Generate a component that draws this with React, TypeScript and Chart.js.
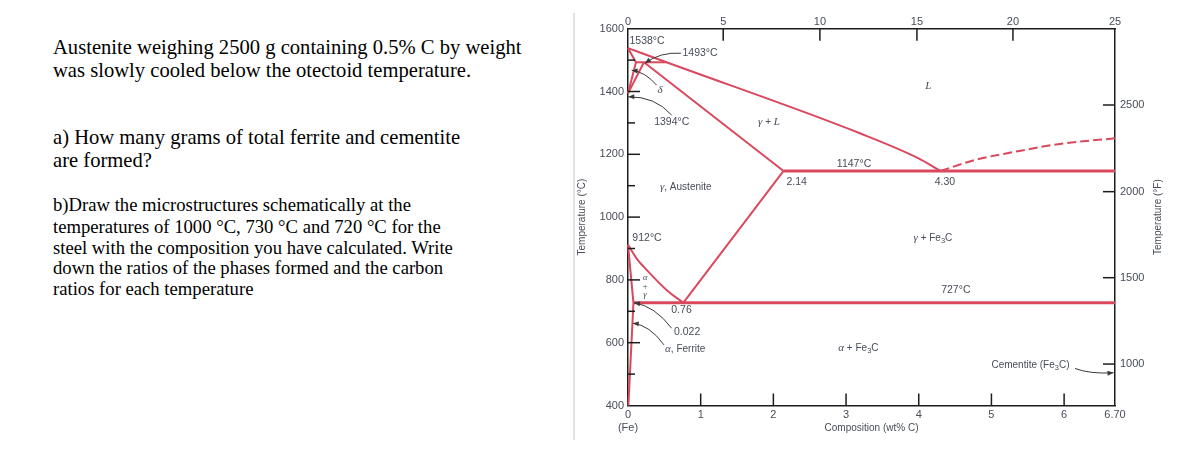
import React, { useEffect, useRef } from "react";
import { Chart, registerables } from "chart.js";

Chart.register(...registerables);

// ---------- data ----------
const xTickValues = [0, 1, 2, 3, 4, 5, 6, 6.7];
const xTickLabels: (string | string[])[] = [["0", "(Fe)"], "1", "2", "3", "4", "5", "6", "6.70"];
// top axis: atom % C, placed at the wt% positions
const topTickValues = [0, 1.31, 2.64, 3.975, 5.296, 6.7];
const topTickLabels = ["0", "5", "10", "15", "20", "25"];
const yTickValues = [400, 600, 800, 1000, 1200, 1400, 1600];
const yMinorValues = [500, 700, 900, 1100, 1300, 1500];
// right axis: °F ticks, placed at the °C positions
const fTickValues = [532, 807, 1081, 1357];
const fTickLabels = ["1000", "1500", "2000", "2500"];

const liquidus = [[0, 1538], [0.53, 1493], [3.19, 1267], [3.99, 1188], [4.3, 1147]];
const deltaSolidus = [[0, 1538], [0.11, 1493]];
const deltaSolvus = [[0.11, 1493], [0, 1394]];
const peritectic = [[0.11, 1493], [0.53, 1493]];
const gammaDeltaBoundary = [[0, 1394], [0.22, 1493]];
const gammaSolidus = [[0.22, 1493], [2.14, 1147]];
const eutectic = [[2.14, 1147], [6.7, 1147]];
const acmLine = [[2.14, 1147], [0.76, 727]];
const a3Line = [[0, 912], [0.12, 868], [0.26, 831], [0.53, 768], [0.76, 727]];
const eutectoid = [[0.075, 727], [6.7, 727]];
const alphaSolvus = [[0, 912], [0.075, 727], [0.005, 400]];
const cementiteLiquidus = [[4.3, 1147], [4.79, 1183], [5.3, 1207], [5.94, 1233], [6.7, 1251]];

const questionLines = [
  "Austenite weighing 2500 g containing 0.5% C by weight",
  "was slowly cooled below the otectoid temperature.",
  "a) How many grams of total ferrite and cementite",
  "are formed?",
  "b)Draw the microstructures schematically at the",
  "temperatures of 1000 °C, 730 °C and 720 °C for the",
  "steel with the composition you have calculated. Write",
  "down the ratios of the phases formed and the carbon",
  "ratios for each temperature",
];
const questionBaselines = [53.5, 77, 144, 166.7, 211.7, 233.3, 254, 274.3, 295];
const questionFontSizes = [20.6, 20.6, 20.6, 20.6, 18.67, 18.67, 18.67, 18.67, 18.67];

// ---------- annotation layout (data coordinates) ----------
type Seg = { t: string; k: "n" | "num" | "g" | "sub" | "small" };
const annotations: { segs: Seg[]; x: number; y: number; align: "left" | "center" }[] = [
  { segs: [{ t: "1538°C", k: "num" }], x: 0.02, y: 1559, align: "left" },
  { segs: [{ t: "1493°C", k: "num" }], x: 0.75, y: 1522, align: "left" },
  { segs: [{ t: "δ", k: "g" }], x: 0.44, y: 1405, align: "center" },
  { segs: [{ t: "1394°C", k: "num" }], x: 0.36, y: 1304, align: "left" },
  { segs: [{ t: "γ", k: "g" }, { t: " + ", k: "n" }, { t: "L", k: "g" }], x: 1.94, y: 1303, align: "center" },
  { segs: [{ t: "L", k: "g" }], x: 4.13, y: 1417, align: "center" },
  { segs: [{ t: "1147°C", k: "num" }], x: 3.11, y: 1169, align: "center" },
  { segs: [{ t: "2.14", k: "num" }], x: 2.32, y: 1113, align: "center" },
  { segs: [{ t: "4.30", k: "num" }], x: 4.36, y: 1113, align: "center" },
  { segs: [{ t: "γ", k: "g" }, { t: ", Austenite", k: "n" }], x: 0.44, y: 1095, align: "left" },
  { segs: [{ t: "912°C", k: "num" }], x: 0.06, y: 933, align: "left" },
  { segs: [{ t: "α", k: "small" }], x: 0.234, y: 808, align: "center" },
  { segs: [{ t: "+", k: "small" }], x: 0.234, y: 779, align: "center" },
  { segs: [{ t: "γ", k: "small" }], x: 0.234, y: 752, align: "center" },
  { segs: [{ t: "0.76", k: "num" }], x: 0.736, y: 704, align: "center" },
  { segs: [{ t: "0.022", k: "num" }], x: 0.633, y: 635, align: "left" },
  { segs: [{ t: "α", k: "g" }, { t: ", Ferrite", k: "n" }], x: 0.51, y: 579, align: "left" },
  { segs: [{ t: "γ", k: "g" }, { t: " + Fe", k: "n" }, { t: "3", k: "sub" }, { t: "C", k: "n" }], x: 4.195, y: 933, align: "center" },
  { segs: [{ t: "727°C", k: "num" }], x: 4.51, y: 766, align: "center" },
  { segs: [{ t: "α", k: "g" }, { t: " + Fe", k: "n" }, { t: "3", k: "sub" }, { t: "C", k: "n" }], x: 3.17, y: 582, align: "center" },
  { segs: [{ t: "Cementite (Fe", k: "n" }, { t: "3", k: "sub" }, { t: "C)", k: "n" }], x: 5.0, y: 529, align: "left" },
];
const arrows: { from: number[]; ctrl: number[]; to: number[] }[] = [
  { from: [0.73, 1522], ctrl: [0.44, 1526], to: [0.234, 1490] },
  { from: [0.395, 1420], ctrl: [0.24, 1462], to: [0.05, 1468] },
  { from: [0.6, 1325], ctrl: [0.37, 1385], to: [0.004, 1383] },
  { from: [0.6, 646], ctrl: [0.37, 717], to: [0.083, 727] },
  { from: [0.495, 593], ctrl: [0.3, 656], to: [0.065, 662] },
  { from: [6.15, 518], ctrl: [6.35, 500], to: [6.68, 504] },
];

const RED = "#d9485c";
const AXIS = "#1c1c1c";
const LABEL = "#474c57";
const SANS = "'Liberation Sans', Arial, sans-serif";
const SERIF = "'Liberation Serif', 'Times New Roman', serif";

function fontFor(k: Seg["k"]) {
  switch (k) {
    case "num": return `10.5px ${SANS}`;
    case "g": return `italic 11px ${SERIF}`;
    case "sub": return `7.5px ${SANS}`;
    case "small": return `italic 9px ${SERIF}`;
    default: return `10px ${SANS}`;
  }
}

function line(ctx: CanvasRenderingContext2D, x1: number, y1: number, x2: number, y2: number) {
  ctx.beginPath();
  ctx.moveTo(x1, y1);
  ctx.lineTo(x2, y2);
  ctx.stroke();
}

const overlayPlugin = {
  id: "overlay",
  afterDraw(chart: any) {
    const { ctx, scales, chartArea } = chart;
    const X = (v: number) => scales.x.getPixelForValue(v);
    const Y = (v: number) => scales.y.getPixelForValue(v);
    const { left, right, top, bottom } = chartArea;
    ctx.save();
    // inward tick marks
    ctx.strokeStyle = AXIS;
    ctx.lineWidth = 1.5;
    yTickValues.filter((v) => v > 400 && v < 1600).forEach((v) => line(ctx, left, Y(v), left + 12, Y(v)));
    yMinorValues.forEach((v) => line(ctx, left, Y(v), left + 7, Y(v)));
    xTickValues.filter((v) => v > 0 && v < 6.7).forEach((v) => line(ctx, X(v), bottom, X(v), bottom - 12));
    topTickValues.filter((v) => v > 0 && v < 6.7).forEach((v) => line(ctx, X(v), top, X(v), top + 12));
    fTickValues.forEach((v) => line(ctx, right, Y(v), right - 12, Y(v)));

    // right axis title (reads bottom to top)
    ctx.save();
    ctx.translate(1158, (top + bottom) / 2);
    ctx.rotate(-Math.PI / 2);
    ctx.font = `10px ${SANS}`;
    ctx.fillStyle = LABEL;
    ctx.textAlign = "center";
    ctx.textBaseline = "middle";
    ctx.fillText("Temperature (°F)", 0, 0);
    ctx.restore();

    // arrows
    ctx.strokeStyle = "#3a3a3a";
    ctx.fillStyle = "#3a3a3a";
    ctx.lineWidth = 1;
    arrows.forEach((a) => {
      const p0 = [X(a.from[0]), Y(a.from[1])];
      const c = [X(a.ctrl[0]), Y(a.ctrl[1])];
      const p1 = [X(a.to[0]), Y(a.to[1])];
      ctx.beginPath();
      ctx.moveTo(p0[0], p0[1]);
      ctx.quadraticCurveTo(c[0], c[1], p1[0], p1[1]);
      ctx.stroke();
      const ang = Math.atan2(p1[1] - c[1], p1[0] - c[0]);
      const L = 6, W = 2.5;
      const cs = Math.cos(ang), sn = Math.sin(ang);
      ctx.beginPath();
      ctx.moveTo(p1[0], p1[1]);
      ctx.lineTo(p1[0] - L * cs + W * sn, p1[1] - L * sn - W * cs);
      ctx.lineTo(p1[0] - L * cs - W * sn, p1[1] - L * sn + W * cs);
      ctx.closePath();
      ctx.fill();
    });

    // text annotations
    ctx.fillStyle = LABEL;
    ctx.textBaseline = "middle";
    ctx.textAlign = "left";
    annotations.forEach((a) => {
      let w = 0;
      a.segs.forEach((s) => {
        ctx.font = fontFor(s.k);
        w += ctx.measureText(s.t).width;
      });
      let px = X(a.x) - (a.align === "center" ? w / 2 : 0);
      const py = Y(a.y);
      a.segs.forEach((s) => {
        ctx.font = fontFor(s.k);
        ctx.fillText(s.t, px, py + (s.k === "sub" ? 3 : 0));
        px += ctx.measureText(s.t).width;
      });
    });
    ctx.restore();
  },
};

function boundary(points: number[][], width = 2, extra: any = {}) {
  return {
    type: "line",
    data: points.map(([x, y]) => ({ x, y })),
    borderColor: RED,
    borderWidth: width,
    pointRadius: 0,
    fill: false,
    tension: 0,
    clip: false,
    xAxisID: "x",
    yAxisID: "y",
    ...extra,
  };
}

export default function App() {
  const ref = useRef<HTMLCanvasElement>(null);
  useEffect(() => {
    const tickFont = { family: SANS, size: 11 };
    const chart = new Chart(ref.current as HTMLCanvasElement, {
      type: "line",
      data: {
        datasets: [
          boundary(liquidus, 2, { cubicInterpolationMode: "monotone" }),
          boundary(deltaSolidus),
          boundary(deltaSolvus),
          boundary(peritectic),
          boundary(gammaDeltaBoundary),
          boundary(gammaSolidus),
          boundary(eutectic, 3),
          boundary(acmLine),
          boundary(a3Line, 2, { cubicInterpolationMode: "monotone" }),
          boundary(eutectoid, 3),
          boundary(alphaSolvus),
          boundary(cementiteLiquidus, 2, { borderDash: [9, 4], cubicInterpolationMode: "monotone" }),
        ] as any,
      },
      options: {
        animation: false,
        responsive: false,
        events: [],
        layout: { padding: { left: 576, right: 14, top: 8, bottom: 41 } },
        plugins: { legend: { display: false }, tooltip: { enabled: false } },
        scales: {
          x: {
            type: "linear",
            position: "bottom",
            min: 0,
            max: 6.7,
            afterBuildTicks: (s: any) => { s.ticks = xTickValues.map((v) => ({ value: v })); },
            afterFit: (s: any) => { s.height = 28.5; },
            ticks: {
              autoSkip: false, maxRotation: 0, minRotation: 0, padding: 3,
              color: LABEL, font: tickFont,
              callback: (_v: any, i: number) => xTickLabels[i],
            },
            grid: { display: false, drawTicks: false },
            border: { display: true, color: AXIS, width: 1.5 },
            title: { display: true, text: "Composition (wt% C)", color: LABEL, font: { family: SANS, size: 10 }, padding: 0 },
          },
          x2: {
            type: "linear",
            position: "top",
            min: 0,
            max: 6.7,
            afterBuildTicks: (s: any) => { s.ticks = topTickValues.map((v) => ({ value: v })); },
            afterFit: (s: any) => { s.height = 20.7; },
            ticks: {
              autoSkip: false, maxRotation: 0, minRotation: 0, padding: 0,
              color: LABEL, font: tickFont,
              callback: (_v: any, i: number) => topTickLabels[i],
            },
            grid: { display: false, drawTicks: false },
            border: { display: true, color: AXIS, width: 1.5 },
          },
          y: {
            type: "linear",
            position: "left",
            min: 400,
            max: 1600,
            afterBuildTicks: (s: any) => { s.ticks = yTickValues.map((v) => ({ value: v })); },
            afterFit: (s: any) => { s.width = 52; },
            ticks: { autoSkip: false, padding: 4, color: LABEL, font: tickFont, callback: (v: any) => String(v) },
            grid: { display: false, drawTicks: false },
            border: { display: true, color: AXIS, width: 1.5 },
            title: { display: true, text: "Temperature (°C)", color: LABEL, font: { family: SANS, size: 10 }, padding: 0 },
          },
          y2: {
            type: "linear",
            position: "right",
            min: 400,
            max: 1600,
            afterBuildTicks: (s: any) => { s.ticks = fTickValues.map((v) => ({ value: v })); },
            afterFit: (s: any) => { s.width = 49; },
            ticks: {
              autoSkip: false, padding: 5, color: LABEL, font: tickFont,
              callback: (_v: any, i: number) => fTickLabels[i],
            },
            grid: { display: false, drawTicks: false },
            border: { display: true, color: AXIS, width: 1.5 },
          },
        },
      } as any,
      plugins: [overlayPlugin],
    });
    return () => chart.destroy();
  }, []);

  return (
    <div style={{ position: "absolute", left: 0, top: 0, width: 1178, height: 475, background: "#fff", overflow: "hidden" }}>
      {questionLines.map((t, i) => {
        const fs = questionFontSizes[i];
        const lh = 24;
        const baselineOffset = (lh - 1.107 * fs) / 2 + 0.891 * fs;
        return (
          <div
            key={i}
            style={{
              position: "absolute",
              left: 53,
              top: questionBaselines[i] - baselineOffset,
              height: lh,
              lineHeight: `${lh}px`,
              fontFamily: SERIF,
              fontSize: `${fs}px`,
              color: "#000",
              whiteSpace: "nowrap",
            }}
          >
            {t}
          </div>
        );
      })}
      <div style={{ position: "absolute", left: 573, top: 13, width: 2, height: 427, background: "#e2e2e2" }} />
      <canvas ref={ref} width={1178} height={475} style={{ position: "absolute", left: 0, top: 0 }} />
    </div>
  );
}
